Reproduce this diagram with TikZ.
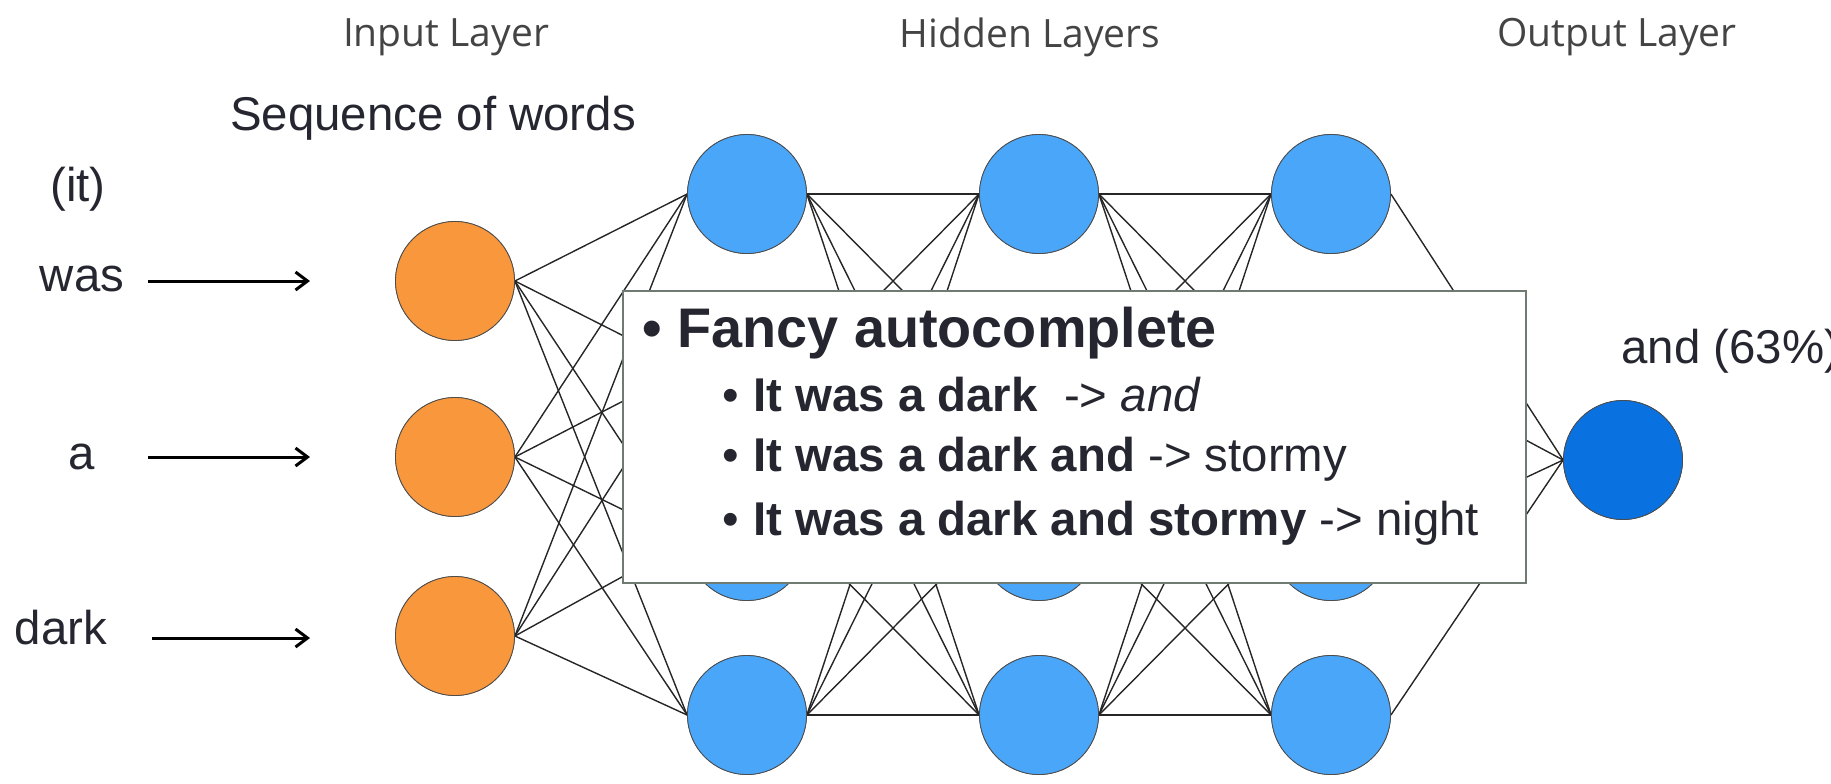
\documentclass[tikz,border=0pt]{standalone}
\usepackage{fontspec}
\setmainfont{Liberation Sans}
\newfontfamily\layerfont{Open Sans}
\usetikzlibrary{arrows.meta}
\definecolor{txt}{HTML}{25262F}
\definecolor{layergray}{HTML}{444444}
\definecolor{inorange}{HTML}{F8973C}
\definecolor{hidblue}{HTML}{4AA6F8}
\definecolor{outblue}{HTML}{0A72E0}
\definecolor{boxborder}{HTML}{6E7A72}
\definecolor{wire}{HTML}{262626}
\tikzset{
  neuron/.style={circle, minimum size=59.5pt, inner sep=0pt, draw=black!70, line width=0.4pt},
  innode/.style={neuron, fill=inorange},
  hidnode/.style={neuron, fill=hidblue},
  outnode/.style={neuron, fill=outblue},
  wireline/.style={draw=wire, line width=0.7pt},
  inarrow/.style={draw=black, line width=1.5pt, -{Straight Barb[length=6pt,width=9pt]}},
  layertitle/.style={font=\layerfont\fontsize{19.5}{23}\selectfont, text=layergray, inner sep=0pt},
  label/.style={font=\fontsize{23.7}{28}\selectfont, text=txt, inner sep=0pt},
  boxtitle/.style={font=\fontsize{27.9}{33}\selectfont\bfseries, text=txt, inner sep=0pt, anchor=base west},
  boxitem/.style={font=\fontsize{23.7}{28}\selectfont, text=txt, inner sep=0pt, anchor=base west},
  infobox/.style={draw=boxborder, fill=white, line width=1pt}
}
\begin{document}
\begin{tikzpicture}[x=0.5pt,y=-0.5pt]
\useasboundingbox (0,0) rectangle (1831,783);
% layer titles
\node[layertitle] (tin) at (446,37) {Input Layer};
\node[layertitle] (thid) at (1030,37) {Hidden Layers};
\node[layertitle] (tout) at (1617,37) {Output Layer};
% labels
\node[label] (seq) at (433,118) {Sequence of words};
\node[label] (it) at (78,189) {(it)};
\node[label] (was) at (82,279) {was};
\node[label] (wa) at (82,457) {a};
\node[label] (dark) at (61,628) {dark};
\node[label, anchor=base west] (andp) at (1621,363) {and (63\%)};
% input nodes
\node[innode] (i1) at (455,281) {};
\node[innode] (i2) at (455,457) {};
\node[innode] (i3) at (455,636) {};
% hidden nodes
\foreach \c/\x in {1/747,2/1039,3/1331}{
  \foreach \r/\y in {1/194,2/368,3/541,4/715}{
    \node[hidnode] (h\c\r) at (\x,\y) {};
  }
}
% output node
\node[outnode] (o) at (1623,460) {};
% input arrows
\coordinate (a1) at (148,281);
\coordinate (a1e) at (310,281);
\coordinate (a2) at (148,457);
\coordinate (a2e) at (310,457);
\coordinate (a3) at (152,638);
\coordinate (a3e) at (310,638);
\draw[inarrow] (a1) -- (a1e);
\draw[inarrow] (a2) -- (a2e);
\draw[inarrow] (a3) -- (a3e);
% wires
\foreach \i in {1,2,3}{
  \foreach \r in {1,2,3,4}{
    \draw[wireline] (i\i.east) -- (h1\r.west);
  }
}
\foreach \a/\b in {1/2,2/3}{
  \foreach \r in {1,2,3,4}{
    \foreach \s in {1,2,3,4}{
      \draw[wireline] (h\a\r.east) -- (h\b\s.west);
    }
  }
}
\foreach \r in {1,2,3,4}{
  \draw[wireline] (h3\r.east) -- (o.west);
}
% redraw nodes above wires
\foreach \y in {281,457,636}{
  \node[innode] at (455,\y) {};
}
\foreach \x in {747,1039,1331}{
  \foreach \y in {194,368,541,715}{
    \node[hidnode] at (\x,\y) {};
  }
}
\node[outnode] at (1623,460) {};
% info box
\node[infobox, minimum width=451.5pt, minimum height=146pt, inner sep=0pt, anchor=north west] (box) at (622,290) {};
\node[boxtitle] (b0) at (642,347) {\textbullet\ Fancy autocomplete};
\node[boxitem] (b1) at (722,411) {\textbullet\hspace{0.3em}\textbf{It was a dark}\ \ -> \textit{and}};
\node[boxitem] (b2) at (722,471) {\textbullet\hspace{0.3em}\textbf{It was a dark and} -> stormy};
\node[boxitem] (b3) at (722,535) {\textbullet\hspace{0.3em}\textbf{It was a dark and stormy} -> night};
\end{tikzpicture}
\end{document}
